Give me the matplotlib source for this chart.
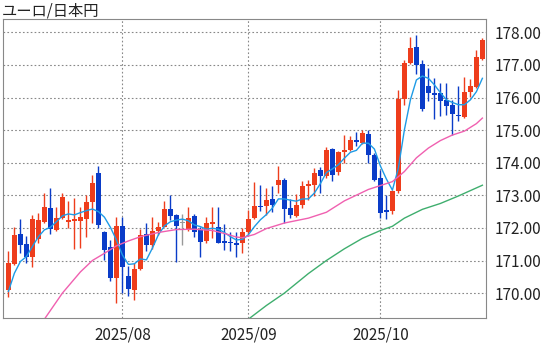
import numpy as np
import pandas as pd
import matplotlib
matplotlib.use("Agg")
import matplotlib.pyplot as plt

plt.rcParams["font.family"] = ["Noto Sans CJK JP", "DejaVu Sans"]

TITLE = "ユーロ/日本円"
START = "2025-07-07"

# daily OHLC
opens = [170.08, 170.90, 171.81, 171.50, 171.10, 171.67, 172.19, 172.62, 171.94, 172.30,
         172.18, 172.21, 172.22, 172.28, 172.78, 173.70, 171.86, 171.41, 170.46, 172.06,
         170.53, 170.10, 170.73, 171.82, 171.48, 171.92, 172.04, 172.57, 172.40, 172.15,
         171.94, 172.37, 171.94, 171.61, 172.12, 172.04, 171.60, 171.56, 171.55, 171.53,
         171.86, 172.30, 172.68, 172.66, 172.89, 173.33, 173.48, 172.61, 172.38, 172.71,
         173.30, 173.33, 173.79, 173.58, 174.42, 173.73, 174.32, 174.38, 174.70, 174.60,
         174.89, 174.24, 173.53, 172.54, 172.51, 173.12, 175.95, 177.05, 177.54, 177.03,
         176.36, 176.13, 176.15, 175.91, 175.78, 175.46, 175.40, 176.18, 176.32, 177.18]
highs = [171.30, 172.02, 172.27, 171.76, 172.40, 172.45, 173.06, 173.21, 172.65, 173.08,
         172.83, 172.91, 172.65, 173.01, 173.62, 173.90, 171.92, 171.63, 172.33, 172.35,
         170.82, 170.91, 171.96, 172.16, 172.33, 172.19, 172.84, 173.01, 172.43, 172.42,
         172.65, 172.42, 172.04, 172.35, 172.65, 172.63, 172.11, 171.89, 171.86, 171.99,
         172.55, 173.42, 173.32, 173.21, 173.28, 173.91, 173.53, 172.89, 173.04, 173.43,
         173.46, 173.84, 173.86, 174.47, 174.45, 174.35, 174.86, 174.81, 174.93, 175.01,
         175.01, 174.30, 173.79, 173.02, 173.17, 176.23, 177.15, 177.87, 177.92, 177.15,
         176.90, 176.59, 176.44, 176.46, 175.93, 176.36, 176.62, 176.56, 177.46, 177.82]
lows = [169.88, 170.87, 171.24, 170.92, 170.79, 171.55, 172.16, 171.82, 171.92, 172.27,
        171.99, 171.35, 171.37, 171.73, 172.14, 171.99, 171.02, 170.36, 169.71, 170.00,
        169.90, 169.80, 170.71, 171.28, 171.35, 171.79, 172.02, 172.24, 170.94, 171.48,
        171.92, 171.71, 171.12, 171.53, 171.68, 171.53, 171.31, 171.28, 171.10, 171.22,
        171.82, 172.27, 172.53, 172.41, 172.48, 173.07, 172.15, 172.31, 172.34, 172.61,
        172.87, 172.99, 173.07, 173.53, 173.43, 173.63, 173.99, 174.35, 174.52, 174.57,
        173.99, 173.43, 172.31, 172.28, 172.44, 173.07, 175.78, 177.02, 176.72, 175.60,
        175.90, 175.34, 175.44, 175.47, 174.84, 175.27, 175.36, 176.01, 176.29, 177.15]
closes = [170.92, 171.79, 171.47, 171.12, 172.28, 172.24, 172.64, 171.96, 172.31, 172.96,
          172.24, 172.27, 172.35, 172.78, 173.37, 172.09, 171.33, 170.46, 172.06, 170.79,
          170.12, 170.73, 171.79, 171.48, 171.92, 172.04, 172.58, 172.38, 172.06, 172.15,
          172.30, 171.89, 171.58, 172.14, 172.18, 171.55, 171.53, 171.53, 171.48, 171.86,
          172.27, 172.67, 172.64, 172.87, 172.71, 173.48, 172.58, 172.41, 172.69, 173.30,
          173.35, 173.70, 173.58, 174.40, 173.62, 174.32, 174.40, 174.70, 174.65, 174.91,
          174.24, 173.46, 172.46, 172.48, 173.12, 175.95, 177.05, 177.53, 177.00, 175.64,
          176.13, 176.07, 175.90, 175.74, 175.50, 175.42, 176.18, 176.36, 177.23, 177.77]

# short moving average (blue), one value per day
ma_short = [170.05, 170.61, 170.97, 171.12, 171.43, 171.73, 171.94, 172.02, 172.19, 172.37,
            172.43, 172.40, 172.47, 172.53, 172.58, 172.50, 172.33, 172.02, 171.63, 171.17,
            170.88, 170.90, 171.05, 171.02, 171.38, 171.79, 172.06, 172.19, 172.24, 172.27,
            172.22, 172.09, 172.04, 171.96, 171.99, 171.96, 171.86, 171.73, 171.63, 171.65,
            171.79, 172.04, 172.25, 172.41, 172.61, 172.89, 172.89, 172.85, 172.82, 172.89,
            172.89, 173.07, 173.36, 173.70, 173.81, 173.94, 174.14, 174.32, 174.38, 174.60,
            174.60, 174.42, 173.90, 173.50, 173.16, 173.84, 175.01, 175.93, 176.54, 176.66,
            176.59, 176.39, 176.15, 175.93, 175.85, 175.78, 175.78, 175.93, 176.18, 176.59]

# medium moving average (pink), read at selected days
ma_mid_day = [6, 9, 12, 14, 16, 18, 20, 22, 25, 28, 31, 34, 36, 38, 39, 41, 43, 46, 50, 53,
              56, 60, 62, 64, 66, 68, 70, 72, 74, 76, 78, 79]
ma_mid = [169.20, 170.00, 170.65, 171.00, 171.22, 171.45, 171.60, 171.73, 171.86, 171.95,
          171.96, 171.92, 171.83, 171.72, 171.70, 171.80, 171.98, 172.15, 172.30, 172.48,
          172.83, 173.18, 173.30, 173.42, 173.73, 174.15, 174.45, 174.68, 174.85, 174.97,
          175.20, 175.37]

# long moving average (green)
ma_long_day = [40, 43, 46, 50, 53, 56, 59, 62, 64, 66, 69, 72, 75, 79]
ma_long = [169.20, 169.62, 170.00, 170.60, 171.00, 171.36, 171.68, 171.92, 172.05, 172.30,
           172.57, 172.75, 172.98, 173.31]

UP = "#ee3d1c"
DOWN = "#0a3cc8"
FLAT = "#999999"


def main():
    dates = pd.bdate_range(START, periods=len(closes))
    x = np.arange(len(closes))

    fig = plt.figure(figsize=(5.6, 3.44), dpi=100)
    ax = fig.add_axes([3 / 560, 1 - 318 / 344, 483 / 560, 299 / 344])

    for i in x:
        o, h, l, c = opens[i], highs[i], lows[i], closes[i]
        col = UP if c > o else DOWN if c < o else FLAT
        ax.vlines(i, l, h, color=col, lw=1, zorder=3)
        body = max(abs(c - o), 0.03)
        ax.bar(i, body, bottom=min(o, c), width=0.72, color=col, lw=0, zorder=4)

    ax.plot(x, ma_short, color="#1e9be6", lw=1, zorder=5)
    ax.plot(ma_mid_day, ma_mid, color="#f060b0", lw=1, zorder=5)
    ax.plot(ma_long_day, ma_long, color="#3fae6e", lw=1, zorder=5)

    # month starts for the x ticks
    month_pos = [i for i in range(1, len(dates)) if dates[i].month != dates[i - 1].month]
    ax.set_xticks(month_pos)
    ax.set_xticklabels([dates[i].strftime("%Y/%m") for i in month_pos], fontsize=11)
    ax.set_xlim(-0.9, 79.6)
    ax.set_ylim(169.236, 178.41)
    ax.set_yticks(np.arange(170, 179, 1))
    ax.set_yticklabels([f"{v:.2f}" for v in np.arange(170, 179, 1)], fontsize=11)
    ax.yaxis.tick_right()
    ax.tick_params(length=0, pad=6, colors="#222222")
    ax.grid(True, color="#888888", ls=(0, (1.5, 2)), lw=0.8)
    for s in ax.spines.values():
        s.set_color("#888888")

    fig.text(2 / 560, 1 - 11 / 344, TITLE, fontsize=11, va="center", ha="left", color="#222222")
    fig.savefig("out.png", dpi=100)


if __name__ == "__main__":
    main()
